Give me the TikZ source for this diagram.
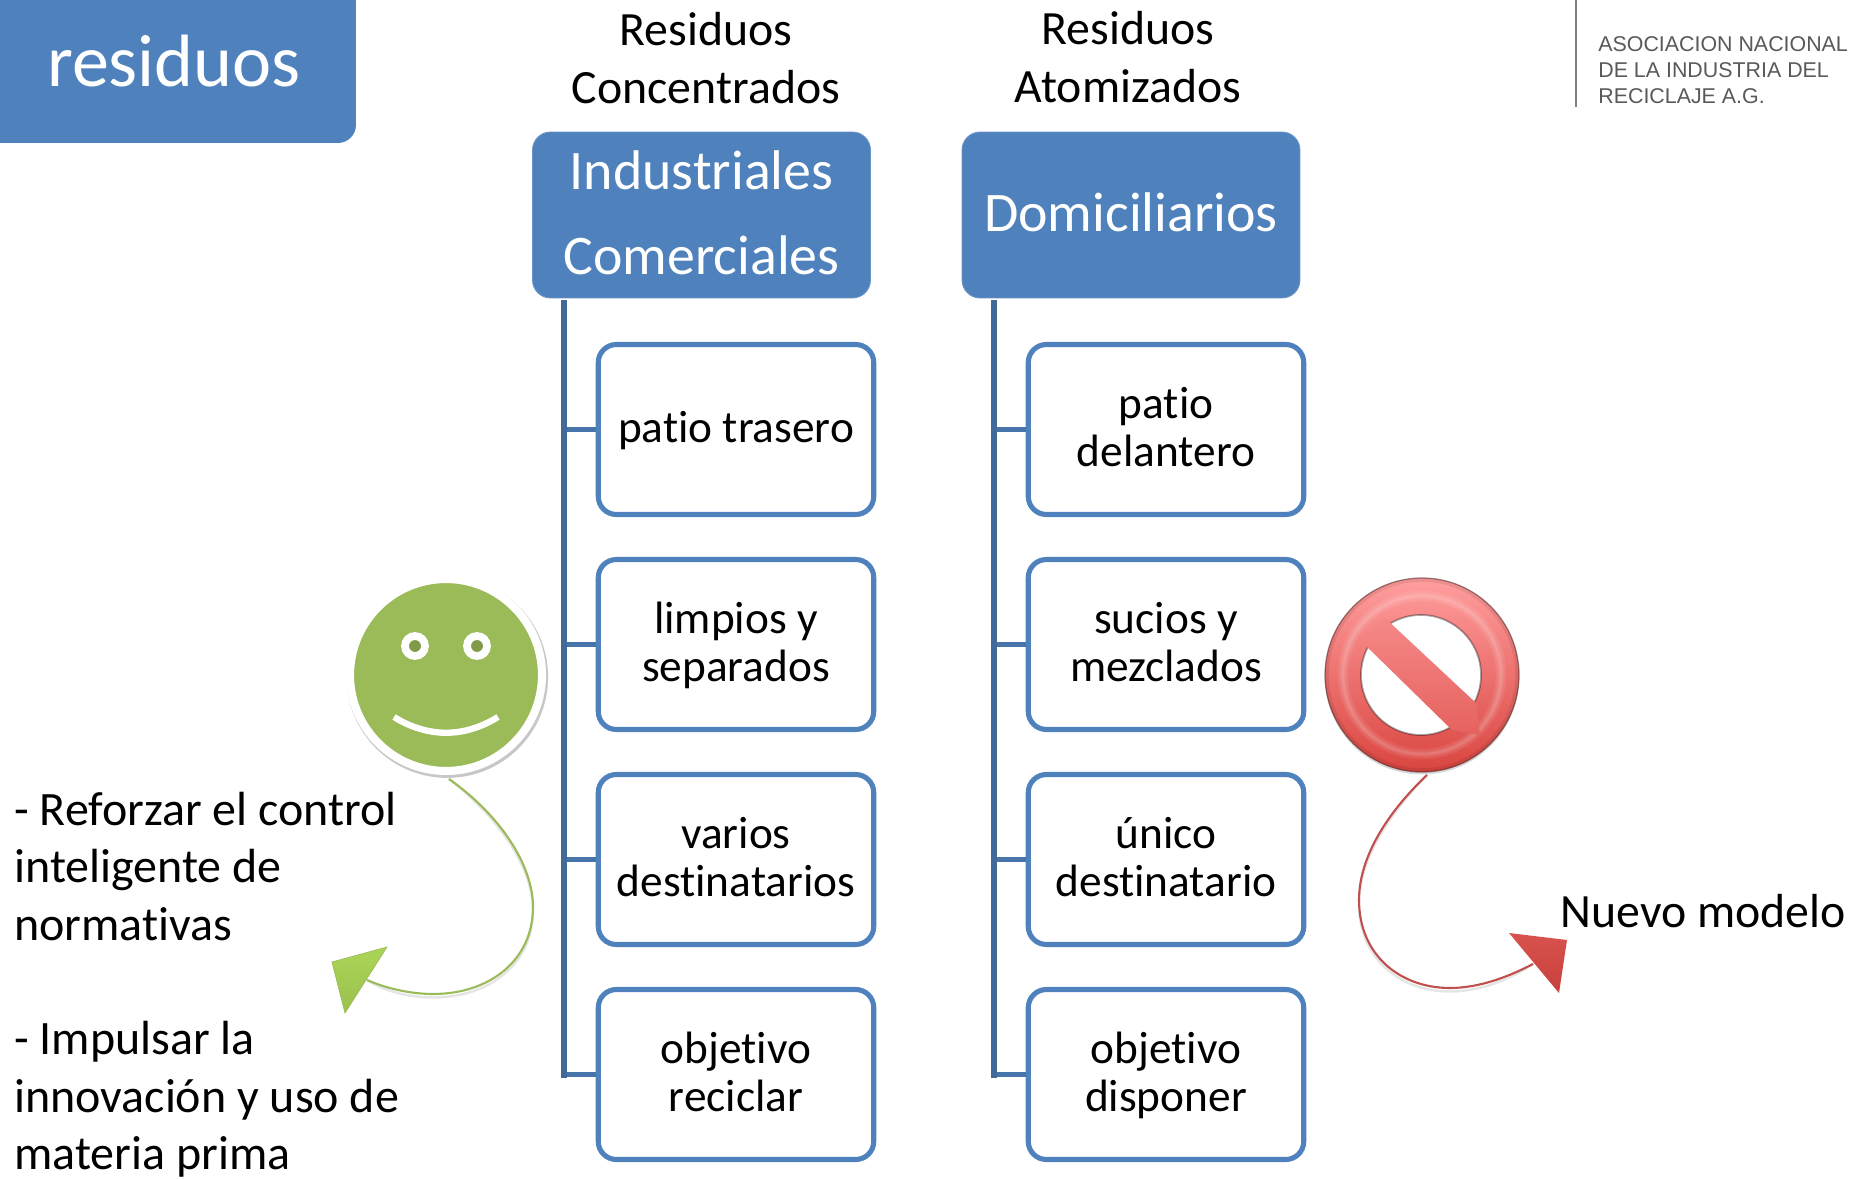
\documentclass[tikz,border=0pt]{standalone}
\usepackage{fontspec}
\setmainfont{Carlito}[Ligatures=NoCommon]
\newfontfamily\logofont{Liberation Sans}
\usetikzlibrary{shadows,calc}
\definecolor{boxblue}{HTML}{4F81BD}
\definecolor{trunkblue}{HTML}{41699A}
\definecolor{smilegreen}{HTML}{9BBB59}
\definecolor{eyegreen}{HTML}{7F9A48}
\definecolor{curvered}{HTML}{C0504D}
\definecolor{tipgreentop}{HTML}{ABD557}
\definecolor{tipgreenlow}{HTML}{9BC04E}
\definecolor{tipredtop}{HTML}{D8524E}
\definecolor{tipredlow}{HTML}{C8403C}
\definecolor{ringtop}{HTML}{FF9E9E}
\definecolor{ringlow}{HTML}{DA4540}
\definecolor{bartop}{HTML}{F58888}
\definecolor{barlow}{HTML}{E5625E}
\tikzset{
    headbox/.style={fill=boxblue, draw=boxblue!85!white, line width=0.5pt, rounded corners=0.36cm, text=white, font=\fontsize{31.8}{38}\selectfont, align=center, minimum width=6.76cm, minimum height=3.32cm, inner sep=0pt, text depth=0.1cm},
    rowbox/.style={draw=boxblue, fill=white, line width=2.9pt, rounded corners=0.36cm, font=\fontsize{25.8}{27.6}\selectfont, align=center, minimum width=5.51cm, minimum height=3.40cm, inner sep=0pt, text height=1.6cm, text depth=0.114cm},
    oneline/.style={text height=0.65cm, text depth=0.11cm},
    headtext/.style={font=\fontsize{27.2}{33}\selectfont, align=center, inner sep=0pt},
    trunk/.style={draw=trunkblue, line width=3.4pt},
    branch/.style={draw=boxblue!90!black, line width=2.9pt},
    softshadow/.style={drop shadow={shadow scale=1.05, shadow xshift=0.025cm, shadow yshift=-0.04cm, opacity=0.22, fill=black}},
    eyedot/.style={circle, fill=eyegreen, draw=white, line width=4.4pt, minimum size=0.4cm, inner sep=0pt}
}
\begin{document}
\begin{tikzpicture}[x=0.02cm, y=-0.02cm]
    \useasboundingbox (0,0) rectangle (1852,1179);

    % Title
    \fill [boxblue] (0,100) rectangle (30,143);
    \node [fill=boxblue, rounded corners=0.36cm, text=white, font=\fontsize{42.2}{48}\selectfont, minimum width=7.28cm, minimum height=3.26cm, inner sep=0pt] (title) at (174,61.5) {residuos};

    % Logo
    \coordinate (logotop) at (1576,0);
    \coordinate (logoend) at (1576,107);
    \draw [gray, line width=0.8pt] (logotop) -- (logoend);
    \node [anchor=north west, inner sep=0pt, align=left, text=black!65, font=\logofont\fontsize{12.17}{14.8}\selectfont] (logo) at (1598,36.5) {ASOCIACION NACIONAL\\DE LA INDUSTRIA DEL\\RECICLAJE A.G.};

    % Column headings
    \node [headtext] (headA) at (706,58) {Residuos\\Concentrados};
    \node [headtext] (headB) at (1128,57) {Residuos\\Atomizados};

    % Blue heads
    \node [headbox, font=\fontsize{31.8}{48.5}\selectfont] (indus) at (701.5,215) {Industriales\\Comerciales};
    \node [headbox] (domi) at (1131,215) {Domiciliarios};

    % Left column
    \node [rowbox, oneline] (rowAa) at (736,429.5) {patio trasero};
    \node [rowbox] (rowAb) at (736,644.5) {limpios y\\separados};
    \node [rowbox] (rowAc) at (736,859.5) {varios\\destinatarios};
    \node [rowbox] (rowAd) at (736,1074.5) {objetivo\\reciclar};

    % Right column
    \node [rowbox] (rowBa) at (1166,429.5) {patio\\delantero};
    \node [rowbox] (rowBb) at (1166,644.5) {sucios y\\mezclados};
    \node [rowbox] (rowBc) at (1166,859.5) {único\\destinatario};
    \node [rowbox] (rowBd) at (1166,1074.5) {objetivo\\disponer};

    % Trunks
    \coordinate (trunkA) at (564,300);
    \coordinate (trunkB) at (994,300);
    \draw [branch] (trunkA |- rowAa.west) -- (rowAa.west);
    \draw [branch] (trunkA |- rowAb.west) -- (rowAb.west);
    \draw [branch] (trunkA |- rowAc.west) -- (rowAc.west);
    \draw [branch] (trunkA |- rowAd.west) -- (rowAd.west);
    \draw [branch] (trunkB |- rowBa.west) -- (rowBa.west);
    \draw [branch] (trunkB |- rowBb.west) -- (rowBb.west);
    \draw [branch] (trunkB |- rowBc.west) -- (rowBc.west);
    \draw [branch] (trunkB |- rowBd.west) -- (rowBd.west);
    \draw [trunk] (trunkA) -- ($(trunkA |- rowAd.west)+(0,3)$);
    \draw [trunk] (trunkB) -- ($(trunkB |- rowBd.west)+(0,3)$);

    % Smiley
    \node [circle, fill=smilegreen, draw=white, line width=4.6pt, minimum size=3.84cm, inner sep=0pt, softshadow] (smiley) at (446,675) {};
    \node [eyedot] (eyeL) at (415,646) {};
    \node [eyedot] (eyeR) at (477,646) {};
    \coordinate (mouthL) at (394,717);
    \coordinate (mouthR) at (498,717);
    \draw [white, line width=3.6pt] (mouthL) .. controls (428,738) and (464,738) .. (mouthR);

    % Forbidden sign
    \shade [top color=ringtop, bottom color=ringlow, drop shadow={shadow xshift=0cm, shadow yshift=-0.05cm, opacity=0.3}] (1422,675) circle [radius=97];
    \draw [white, line width=6pt, opacity=0.08] (1422,675) circle [radius=79];
    \draw [white, line width=3.5pt, opacity=0.08] (1422,675) circle [radius=79];
    \draw [white, line width=1.5pt, opacity=0.1] (1422,675) circle [radius=79];
    \draw [black!60!curvered, line width=0.7pt, opacity=0.55] (1422,675) circle [radius=97];
    \draw [black, line width=2pt, opacity=0.08] (1422,675) circle [radius=95];
    \fill [white] (1421,675) circle [radius=60];
    \draw [black, line width=1pt, opacity=0.35] (1421,675) circle [radius=60];
    \shade [top color=bartop, bottom color=barlow] (1360,640) -- (1385,618) -- (1476,703) -- (1480,735) -- (1452,730) -- cycle;
    \coordinate (signbase) at (1427,775);

    % Green arrow
    \coordinate (greenstart) at (449,779);
    \coordinate (greenend) at (367,980);
    \draw [black, opacity=0.1, line width=1.4pt, yshift=-0.07cm] (greenstart) .. controls (500,815) and (533,865) .. (533,907) .. controls (533,960) and (490,994) .. (433,994) .. controls (410,994) and (385,988) .. (greenend);
    \draw [smilegreen, line width=1.2pt] (greenstart) .. controls (500,815) and (533,865) .. (533,907) .. controls (533,960) and (490,994) .. (433,994) .. controls (410,994) and (385,988) .. (greenend);
    \shade [top color=tipgreentop, bottom color=tipgreenlow, draw=smilegreen, line width=0.4pt] (387,947) -- (332,962) -- (345,1013) -- cycle;

    % Red arrow
    \coordinate (redend) at (1533,964);
    \draw [black, opacity=0.1, line width=1.4pt, yshift=-0.07cm] (signbase) .. controls (1390,810) and (1359,855) .. (1359,900) .. controls (1359,955) and (1400,988) .. (1450,988) .. controls (1480,988) and (1510,976) .. (redend);
    \draw [curvered, line width=1.2pt] (signbase) .. controls (1390,810) and (1359,855) .. (1359,900) .. controls (1359,955) and (1400,988) .. (1450,988) .. controls (1480,988) and (1510,976) .. (redend);
    \shade [top color=tipredtop, bottom color=tipredlow] (1509,933) -- (1567,940) -- (1559,993) -- cycle;

    % Side notes
    \node [anchor=north west, inner sep=0pt, align=left, font=\fontsize{27.3}{32.7}\selectfont] (notes) at (14,791.5) {- Reforzar el control\\inteligente de\\normativas\\[32.7pt]- Impulsar la\\innovación y uso de\\materia prima};
    \node [inner sep=0pt, font=\fontsize{27.2}{33}\selectfont] (nuevo) at (1703,911) {Nuevo modelo};
\end{tikzpicture}
\end{document}
